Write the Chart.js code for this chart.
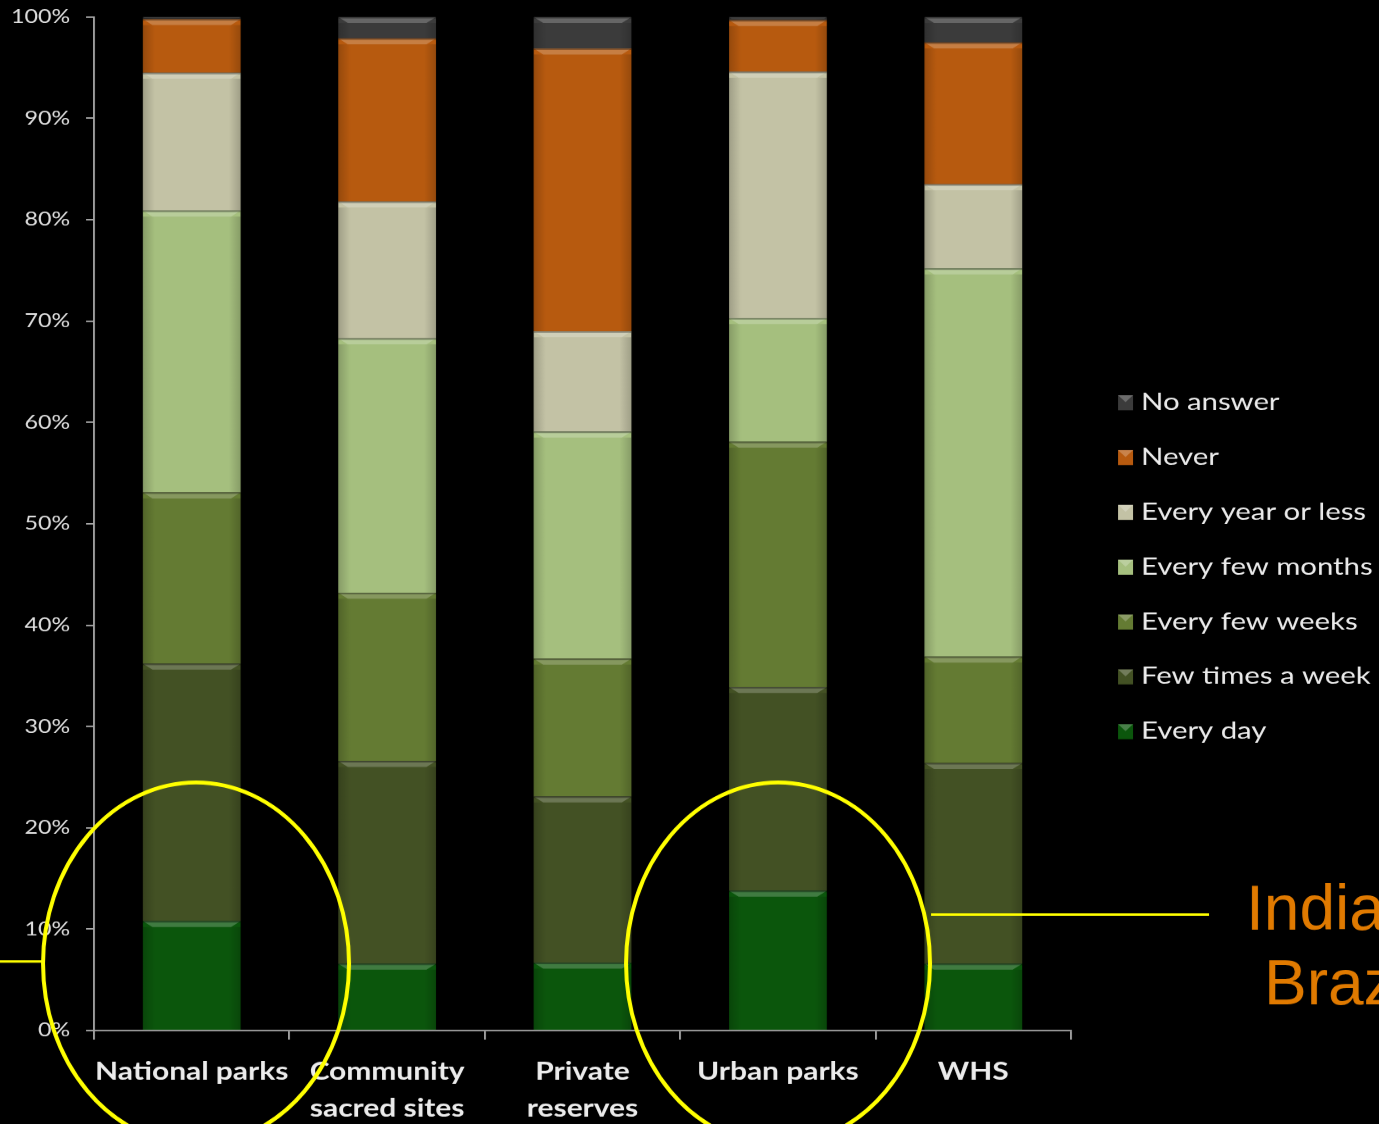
<!DOCTYPE html>
<html><head><meta charset="utf-8">
<script src="https://cdn.jsdelivr.net/npm/chart.js@4/dist/chart.umd.min.js"></script>
<style>
html,body{margin:0;padding:0;background:#000;overflow:hidden}
#wrap{width:1379px;height:1124px;position:relative;overflow:hidden;background:#000}
#c{position:absolute;left:0;top:0;transform-origin:0 0;transform:scaleX(1.2204)}
</style>
</head><body><div id="wrap"><canvas id="c" width="1130" height="1124"></canvas></div>
<script>
const categories = [["National parks"], ["Community", "sacred sites"], ["Private", "reserves"], ["Urban parks"], ["WHS"]];
const everyDay        = [10.8, 6.6, 6.7, 13.8, 6.6];
const fewTimesWeek    = [25.4, 20.0, 16.4, 20.1, 19.8];
const everyFewWeeks   = [16.9, 16.6, 13.6, 24.2, 10.5];
const everyFewMonths  = [27.8, 25.1, 22.4, 12.2, 38.3];
const everyYearOrLess = [13.6, 13.5, 9.9, 24.3, 8.3];
const never           = [5.3, 16.1, 27.9, 5.1, 14.0];
const noAnswer        = [0.2, 2.1, 3.1, 0.3, 2.5];
const yTicks = [0,10,20,30,40,50,60,70,80,90,100];

const seriesNames = ["Every day","Few times a week","Every few weeks","Every few months","Every year or less","Never","No answer"];
const seriesData = [everyDay, fewTimesWeek, everyFewWeeks, everyFewMonths, everyYearOrLess, never, noAnswer];
const seriesColors = ["#0b560c","#435124","#647b33","#a5bf7e","#c3c2a5","#b75a0f","#3b3b3b"];

const S = 1.2204;           // horizontal stretch of the original picture
const FONT = "Lato, 'Open Sans', sans-serif";

const bevel = {
  id:'bevel',
  afterDatasetsDraw(chart){
    const ctx = chart.ctx;
    chart.data.datasets.forEach((ds,i)=>{
      const meta = chart.getDatasetMeta(i);
      meta.data.forEach(el=>{
        const top = Math.min(el.y, el.base), bot = Math.max(el.y, el.base);
        const h = bot-top; if (h < 1) return;
        const l = el.x - el.width/2, r = el.x + el.width/2;
        const b = Math.min(6, h/2);
        ctx.save();
        ctx.fillStyle = 'rgba(255,255,255,0.22)';
        ctx.beginPath();
        ctx.moveTo(l, top); ctx.lineTo(r, top); ctx.lineTo(r-b*1.3, top+b); ctx.lineTo(l+b*1.3, top+b); ctx.closePath(); ctx.fill();
        ctx.fillStyle = 'rgba(0,0,0,0.35)';
        ctx.fillRect(l, top, el.width, 1.5);
        const g = ctx.createLinearGradient(l,0,r,0);
        g.addColorStop(0,'rgba(0,0,0,0.18)'); g.addColorStop(0.12,'rgba(0,0,0,0)');
        g.addColorStop(0.88,'rgba(0,0,0,0)'); g.addColorStop(1,'rgba(0,0,0,0.18)');
        ctx.fillStyle = g; ctx.fillRect(l, top+b, el.width, h-b);
        ctx.restore();
      });
    });
  }
};

const extras = {
  id:'extras',
  afterDraw(chart){
    const ctx = chart.ctx;
    ctx.save();
    // legend, drawn in the stretched space like the rest of the chart
    const items = seriesNames.map((n,i)=>({n, c: seriesColors[i]})).reverse();
    ctx.font = "24px " + FONT;
    ctx.textBaseline = 'middle';
    items.forEach((it,k)=>{
      const cy = 402 + k*54.8;
      const mx = 1118/S, mw = 15/S;
      ctx.fillStyle = it.c;
      ctx.fillRect(mx, cy-7, mw, 15);
      ctx.fillStyle = 'rgba(255,255,255,0.25)';
      ctx.beginPath(); ctx.moveTo(mx,cy-7); ctx.lineTo(mx+mw,cy-7); ctx.lineTo(mx+mw/2,cy); ctx.closePath(); ctx.fill();
      ctx.fillStyle = '#ececec';
      ctx.fillText(it.n, 1141/S, cy);
    });
    ctx.restore();
    ctx.save();
    ctx.scale(1/S, 1);   // annotations drawn in page pixels
    ctx.strokeStyle = '#ffff00';
    ctx.lineWidth = 4;
    ctx.beginPath(); ctx.ellipse(196, 963, 153, 181, 0, 0, Math.PI*2); ctx.stroke();
    ctx.beginPath(); ctx.ellipse(778, 963, 152, 181, 0, 0, Math.PI*2); ctx.stroke();
    ctx.lineWidth = 2.5;
    ctx.beginPath(); ctx.moveTo(0, 961); ctx.lineTo(43, 961); ctx.stroke();
    ctx.beginPath(); ctx.moveTo(931, 914); ctx.lineTo(1209, 914); ctx.stroke();
    ctx.fillStyle = '#e07a00';
    ctx.font = "64px 'Liberation Sans', Arial, sans-serif";
    ctx.textBaseline = 'alphabetic';
    ctx.fillText('India', 1246, 929);
    ctx.fillText('Braz', 1264, 1004);
    ctx.restore();
  }
};

new Chart(document.getElementById('c'), {
  type:'bar',
  data:{
    labels: categories,
    datasets: seriesNames.map((n,i)=>({label:n, data:seriesData[i], backgroundColor:seriesColors[i], borderWidth:0, barPercentage:0.5, categoryPercentage:1}))
  },
  options:{
    responsive:false, animation:false, devicePixelRatio:S,
    layout:{padding:{left:0, right:1130 - 1071/S, top:17, bottom:0}},
    plugins:{legend:{display:false}, tooltip:{enabled:false}},
    scales:{
      x:{
        stacked:true,
        afterFit(s){ s.height = 94; s.paddingLeft = 0; s.paddingRight = 0; },
        grid:{display:true, drawOnChartArea:false, drawTicks:true, tickLength:9, color:'#a8a8a8', lineWidth:1.5, offset:true},
        border:{display:true, color:'#a8a8a8', width:1.5},
        ticks:{color:'#ececec', font:{family:FONT, size:24.5, weight:'bold', lineHeight:1.5}, padding:14, maxRotation:0, autoSkip:false}
      },
      y:{
        stacked:true, min:0, max:100,
        afterFit(s){ s.width = 94/S; s.paddingTop = 0; s.paddingBottom = 0; },
        afterBuildTicks(s){ s.ticks = yTicks.map(v=>({value:v})); },
        grid:{display:true, drawOnChartArea:false, drawTicks:true, tickLength:8/S, color:'#a8a8a8', lineWidth:1.5},
        border:{display:true, color:'#a8a8a8', width:1.5},
        ticks:{color:'#e0e0e0', font:{family:FONT, size:19}, padding:16/S, callback:v=>v+'%'}
      }
    }
  },
  plugins:[bevel, extras]
});
</script></body></html>
